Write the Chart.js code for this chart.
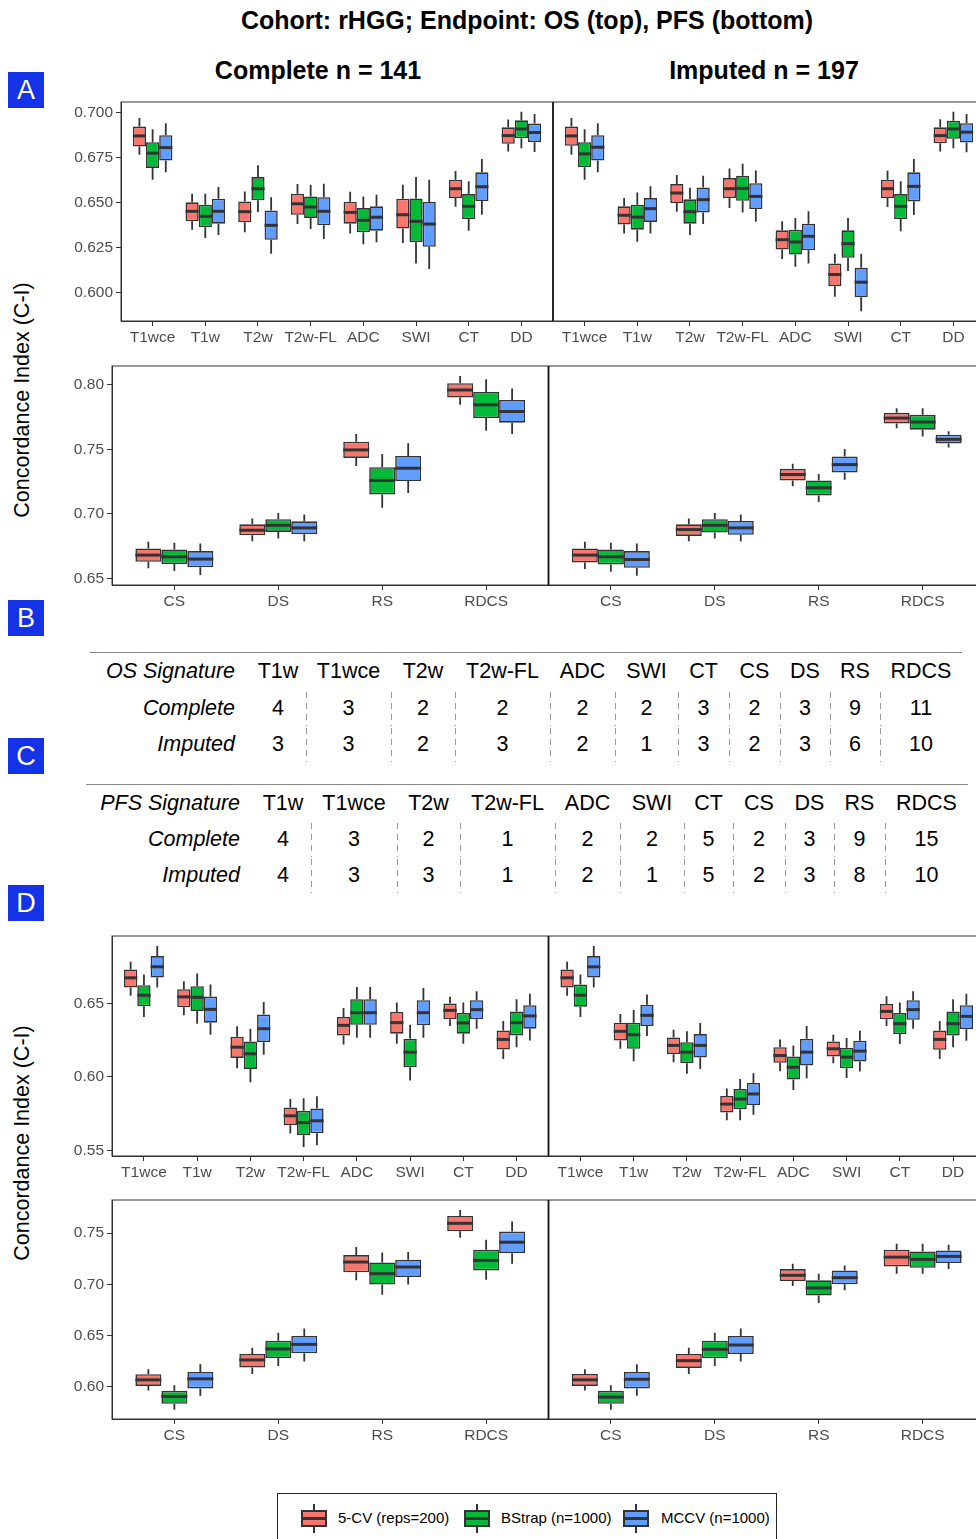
<!DOCTYPE html>
<html>
<head>
<meta charset="utf-8">
<title>rHGG concordance</title>
<script src="https://cdn.jsdelivr.net/npm/chart.js@4.4.1/dist/chart.umd.min.js"></script>
<style>
  html, body { margin: 0; padding: 0; width: 976px; height: 1539px; overflow: hidden; background: #fff; }
  body { position: relative; font-family: "Liberation Sans", Arial, Helvetica, sans-serif; color: #000; }
  .abs { position: absolute; }
  .title { font-weight: bold; font-size: 25px; line-height: 30px; text-align: center; white-space: nowrap; }
  .tag { position: absolute; left: 8px; width: 36px; height: 36px; background: #1432e6; color: #fff; font-size: 27px; line-height: 36px; text-align: center; }
  .ytitle { position: absolute; width: 320px; height: 30px; line-height: 30px; font-size: 21.5px; text-align: center; transform: rotate(-90deg); white-space: nowrap; }
  canvas { position: absolute; left: 0; }
  .tbl { position: absolute; border-top: 1px solid #8a8a8a; font-size: 21.5px; }
  .tr { display: flex; }
  .td { text-align: center; white-space: nowrap; box-sizing: border-box; }
  .lab { text-align: right; font-style: italic; padding-right: 15px; }
  .dash { background: linear-gradient(#9a9a9a 55%, transparent 0) 0 2px / 1px 11px repeat-y; }
  .legend { position: absolute; left: 277px; top: 1493px; width: 498px; height: 60px; border: 1.5px solid #222; }
  .lg-txt { position: absolute; font-size: 15px; line-height: 20px; top: 1508px; white-space: nowrap; }
  .lg-box { position: absolute; top: 1510px; width: 22px; height: 13px; border: 2px solid #333; }
  .lg-med { position: absolute; left: 0; right: 0; top: 5px; height: 3px; background: #333; }
  .lg-wh { position: absolute; top: 1504px; width: 2px; height: 29px; background: #333; }
</style>
</head>
<body>

<div class="abs title" style="left:227px; top:5px; width:600px;">Cohort: rHGG; Endpoint: OS (top), PFS (bottom)</div>
<div class="abs title" style="left:168px; top:55px; width:300px;">Complete n = 141</div>
<div class="abs title" style="left:614px; top:55px; width:300px;">Imputed n = 197</div>

<div class="tag" style="top:72px;">A</div>
<div class="tag" style="top:600px;">B</div>
<div class="tag" style="top:738px;">C</div>
<div class="tag" style="top:885px;">D</div>

<div class="ytitle" style="left:-138px; top:385px;">Concordance Index (C-I)</div>
<div class="ytitle" style="left:-138px; top:1128px;">Concordance Index (C-I)</div>

<canvas id="osSeqChart" width="990" height="264" style="top:87px;"></canvas>
<canvas id="osSigChart" width="990" height="264" style="top:351px;"></canvas>
<canvas id="pfsSeqChart" width="990" height="265" style="top:921px;"></canvas>
<canvas id="pfsSigChart" width="990" height="264" style="top:1185px;"></canvas>

<div id="osTable" class="tbl" style="left:90px; top:652px; width:872px;"></div>
<div id="pfsTable" class="tbl" style="left:86px; top:784px; width:882px;"></div>

<div class="legend"></div>
<div id="legendItems"></div>

<script>
// ---- categories / series ----
var seqLabels = ["T1wce", "T1w", "T2w", "T2w-FL", "ADC", "SWI", "CT", "DD"];
var sigLabels = ["CS", "DS", "RS", "RDCS"];
var seriesNames = ["5-CV (reps=200)", "BStrap (n=1000)", "MCCV (n=1000)"];
var seriesColors = ["#F8766D", "#00BA38", "#619CFF"];

// box stats: [min, q1, median, q3, max]; Complete panel first, then Imputed panel

// OS, single sequences
var osSeq5cv = [
  [0.6767,0.6813,0.6872,0.6924,0.6972],[0.6350,0.6396,0.6452,0.6502,0.6550],[0.6335,0.6391,0.6450,0.6507,0.6563],[0.6381,0.6433,0.6494,0.6550,0.6604],
  [0.6328,0.6383,0.6446,0.6506,0.6561],[0.6276,0.6356,0.6433,0.6522,0.6600],[0.6478,0.6526,0.6578,0.6628,0.6676],[0.6785,0.6828,0.6874,0.6920,0.6963],
  [0.6767,0.6817,0.6872,0.6924,0.6972],[0.6328,0.6378,0.6430,0.6480,0.6526],[0.6450,0.6498,0.6554,0.6604,0.6654],[0.6470,0.6526,0.6578,0.6637,0.6691],
  [0.6187,0.6239,0.6294,0.6346,0.6396],[0.5976,0.6035,0.6100,0.6161,0.6215],[0.6476,0.6526,0.6578,0.6628,0.6678],[0.6785,0.6831,0.6874,0.6920,0.6965]
];
var osSeqBoot = [
  [0.6628,0.6694,0.6776,0.6837,0.6909],[0.6304,0.6363,0.6424,0.6489,0.6550],[0.6448,0.6513,0.6578,0.6643,0.6709],[0.6354,0.6415,0.6476,0.6535,0.6600],
  [0.6269,0.6335,0.6402,0.6470,0.6535],[0.6161,0.6280,0.6396,0.6524,0.6643],[0.6344,0.6409,0.6480,0.6548,0.6619],[0.6804,0.6859,0.6911,0.6959,0.7007],
  [0.6628,0.6698,0.6772,0.6837,0.6909],[0.6283,0.6350,0.6420,0.6489,0.6557],[0.6320,0.6383,0.6450,0.6519,0.6583],[0.6446,0.6511,0.6580,0.6650,0.6717],
  [0.6143,0.6211,0.6281,0.6350,0.6415],[0.6119,0.6193,0.6272,0.6346,0.6415],[0.6341,0.6409,0.6480,0.6548,0.6619],[0.6804,0.6856,0.6911,0.6957,0.7007]
];
var osSeqMccv = [
  [0.6670,0.6735,0.6807,0.6876,0.6943],[0.6320,0.6383,0.6452,0.6522,0.6587],[0.6215,0.6293,0.6374,0.6456,0.6531],[0.6298,0.6374,0.6452,0.6531,0.6606],
  [0.6280,0.6344,0.6419,0.6480,0.6544],[0.6131,0.6254,0.6381,0.6504,0.6628],[0.6433,0.6509,0.6589,0.6669,0.6744],[0.6783,0.6837,0.6891,0.6941,0.6994],
  [0.6670,0.6735,0.6809,0.6876,0.6943],[0.6328,0.6393,0.6467,0.6526,0.6591],[0.6381,0.6446,0.6517,0.6585,0.6650],[0.6394,0.6465,0.6535,0.6609,0.6680],
  [0.6161,0.6235,0.6313,0.6383,0.6452],[0.5896,0.5974,0.6057,0.6137,0.6215],[0.6431,0.6507,0.6591,0.6669,0.6743],[0.6781,0.6835,0.6893,0.6943,0.6994]
];

// OS, signatures
var osSig5cv = [
  [0.6577,0.6628,0.6680,0.6731,0.6783],[0.6788,0.6834,0.6873,0.6919,0.6963],[0.7372,0.7434,0.7496,0.7560,0.7619],[0.7846,0.7902,0.7961,0.8013,0.8069],
  [0.6572,0.6623,0.6680,0.6731,0.6783],[0.6788,0.6829,0.6878,0.6919,0.6963],[0.7215,0.7259,0.7305,0.7349,0.7388],[0.7665,0.7701,0.7743,0.7784,0.7820]
];
var osSigBoot = [
  [0.6556,0.6610,0.6667,0.6724,0.6775],[0.6809,0.6860,0.6911,0.6958,0.7007],[0.7048,0.7151,0.7259,0.7362,0.7465],[0.7645,0.7743,0.7846,0.7946,0.8044],
  [0.6551,0.6608,0.6667,0.6724,0.6775],[0.6809,0.6855,0.6911,0.6958,0.7007],[0.7092,0.7143,0.7202,0.7259,0.7310],[0.7601,0.7653,0.7712,0.7768,0.7820]
];
var osSigMccv = [
  [0.6525,0.6585,0.6649,0.6711,0.6770],[0.6788,0.6842,0.6891,0.6942,0.6994],[0.7161,0.7254,0.7354,0.7449,0.7547],[0.7619,0.7707,0.7794,0.7884,0.7972],
  [0.6520,0.6582,0.6646,0.6711,0.6770],[0.6785,0.6837,0.6891,0.6945,0.6994],[0.7264,0.7321,0.7382,0.7444,0.7503],[0.7514,0.7545,0.7578,0.7614,0.7640]
];

// PFS, single sequences
var pfsSeq5cv = [
  [0.6553,0.6610,0.6676,0.6733,0.6785],[0.6420,0.6475,0.6546,0.6598,0.6653],[0.6059,0.6130,0.6203,0.6274,0.6345],[0.5614,0.5671,0.5735,0.5792,0.5849],
  [0.6221,0.6283,0.6352,0.6409,0.6470],[0.6226,0.6295,0.6370,0.6443,0.6507],[0.6347,0.6393,0.6454,0.6500,0.6546],[0.6123,0.6187,0.6256,0.6317,0.6381],
  [0.6553,0.6610,0.6676,0.6733,0.6785],[0.6192,0.6249,0.6311,0.6370,0.6429],[0.6100,0.6155,0.6215,0.6269,0.6322],[0.5705,0.5758,0.5815,0.5870,0.5922],
  [0.6039,0.6096,0.6146,0.6203,0.6256],[0.6094,0.6139,0.6192,0.6242,0.6288],[0.6347,0.6393,0.6447,0.6498,0.6550],[0.6123,0.6185,0.6256,0.6317,0.6381]
];
var pfsSeqBoot = [
  [0.6409,0.6482,0.6557,0.6626,0.6699],[0.6363,0.6450,0.6543,0.6619,0.6705],[0.5963,0.6055,0.6158,0.6242,0.6329],[0.5523,0.5603,0.5689,0.5769,0.5854],
  [0.6267,0.6356,0.6438,0.6530,0.6614],[0.5975,0.6066,0.6169,0.6260,0.6356],[0.6226,0.6295,0.6368,0.6436,0.6507],[0.6203,0.6283,0.6370,0.6447,0.6530],
  [0.6409,0.6479,0.6557,0.6630,0.6699],[0.6107,0.6192,0.6288,0.6370,0.6457],[0.6021,0.6094,0.6169,0.6237,0.6311],[0.5705,0.5779,0.5849,0.5918,0.5986],
  [0.5911,0.5982,0.6066,0.6139,0.6215],[0.5993,0.6059,0.6135,0.6199,0.6265],[0.6224,0.6292,0.6363,0.6436,0.6507],[0.6203,0.6283,0.6363,0.6447,0.6530]
];
var pfsSeqMccv = [
  [0.6610,0.6678,0.6751,0.6824,0.6893],[0.6288,0.6370,0.6461,0.6548,0.6630],[0.6151,0.6237,0.6329,0.6425,0.6511],[0.5534,0.5616,0.5701,0.5785,0.5868],
  [0.6267,0.6356,0.6438,0.6530,0.6614],[0.6267,0.6352,0.6438,0.6523,0.6607],[0.6329,0.6393,0.6459,0.6523,0.6584],[0.6249,0.6329,0.6416,0.6489,0.6568],
  [0.6610,0.6678,0.6751,0.6824,0.6893],[0.6279,0.6347,0.6420,0.6493,0.6562],[0.6055,0.6132,0.6215,0.6292,0.6368],[0.5742,0.5808,0.5884,0.5959,0.6025],
  [0.5991,0.6078,0.6169,0.6260,0.6347],[0.6037,0.6105,0.6176,0.6247,0.6315],[0.6329,0.6390,0.6459,0.6523,0.6584],[0.6247,0.6326,0.6413,0.6489,0.6568]
];

// PFS, signatures
var pfsSig5cv = [
  [0.5961,0.6006,0.6065,0.6120,0.6169],[0.6123,0.6185,0.6260,0.6318,0.6380],[0.7039,0.7117,0.7218,0.7286,0.7364],[0.7455,0.7519,0.7597,0.7669,0.7727],
  [0.5961,0.6006,0.6065,0.6123,0.6169],[0.6123,0.6182,0.6253,0.6318,0.6380],[0.6984,0.7032,0.7088,0.7149,0.7201],[0.7104,0.7175,0.7266,0.7338,0.7396]
];
var pfsSigBoot = [
  [0.5773,0.5831,0.5903,0.5958,0.6013],[0.6201,0.6279,0.6367,0.6448,0.6526],[0.6899,0.6997,0.7104,0.7214,0.7312],[0.7045,0.7136,0.7234,0.7338,0.7435],
  [0.5773,0.5831,0.5896,0.5958,0.6013],[0.6201,0.6276,0.6364,0.6448,0.6526],[0.6818,0.6890,0.6964,0.7039,0.7104],[0.7104,0.7162,0.7244,0.7321,0.7396]
];
var pfsSigMccv = [
  [0.5909,0.5981,0.6075,0.6143,0.6218],[0.6244,0.6325,0.6412,0.6494,0.6568],[0.6997,0.7071,0.7169,0.7240,0.7315],[0.7201,0.7305,0.7412,0.7516,0.7614],
  [0.5909,0.5981,0.6071,0.6143,0.6218],[0.6244,0.6318,0.6406,0.6494,0.6568],[0.6942,0.7000,0.7065,0.7136,0.7185],[0.7149,0.7208,0.7273,0.7331,0.7386]
];

// y tick labels
var osSeqTicks = [0.600, 0.625, 0.650, 0.675, 0.700];
var osSigTicks = [0.65, 0.70, 0.75, 0.80];
var pfsSeqTicks = [0.55, 0.60, 0.65];
var pfsSigTicks = [0.60, 0.65, 0.70, 0.75];

// signature size tables
var sigCols = ["T1w", "T1wce", "T2w", "T2w-FL", "ADC", "SWI", "CT", "CS", "DS", "RS", "RDCS"];
var osComplete = [4, 3, 2, 2, 2, 2, 3, 2, 3, 9, 11];
var osImputed = [3, 3, 2, 3, 2, 1, 3, 2, 3, 6, 10];
var pfsComplete = [4, 3, 2, 1, 2, 2, 5, 2, 3, 9, 15];
var pfsImputed = [4, 3, 3, 1, 2, 1, 5, 2, 3, 8, 10];

// ---- box plot drawing: whiskers + median on top of the floating bars ----
var boxPlugin = {
  id: 'boxes',
  afterDatasetsDraw: function (chart) {
    var ctx = chart.ctx, y = chart.scales.y;
    ctx.save();
    ctx.strokeStyle = '#333333';
    chart.data.datasets.forEach(function (ds, k) {
      chart.getDatasetMeta(k).data.forEach(function (bar, i) {
        var s = ds.stats[i];
        var half = bar.width / 2;
        ctx.lineWidth = 1.8;
        ctx.beginPath();
        ctx.moveTo(bar.x, y.getPixelForValue(s[4]));
        ctx.lineTo(bar.x, y.getPixelForValue(s[3]));
        ctx.moveTo(bar.x, y.getPixelForValue(s[1]));
        ctx.lineTo(bar.x, y.getPixelForValue(s[0]));
        ctx.stroke();
        ctx.lineWidth = 3;
        ctx.beginPath();
        ctx.moveTo(bar.x - half, y.getPixelForValue(s[2]));
        ctx.lineTo(bar.x + half, y.getPixelForValue(s[2]));
        ctx.stroke();
      });
    });
    ctx.restore();
  },
  afterDraw: function (chart) {
    var ctx = chart.ctx, a = chart.chartArea;
    var xd = chart.scales.x.getPixelForValue(chart.options.dividerAt);
    ctx.save();
    ctx.strokeStyle = '#333333';
    ctx.lineWidth = 1;
    ctx.strokeRect(a.left, a.top, a.right - a.left, a.bottom - a.top);
    ctx.strokeStyle = '#111111';
    ctx.lineWidth = 1.8;
    ctx.beginPath();
    ctx.moveTo(xd, a.top);
    ctx.lineTo(xd, a.bottom);
    ctx.stroke();
    ctx.restore();
  }
};

var tickFont = { family: 'Liberation Sans, Arial, sans-serif', size: 15.5 };

function drawRow(id, cats, series, yMin, yMax, yTicks, digits, axisWidth) {
  var n = cats.length;
  var pos = [], names = [];
  [0, 1].forEach(function (p) {
    cats.forEach(function (c, i) {
      pos.push(p * (n + 0.2) + i);
      names.push(c);
    });
  });
  var canvas = document.getElementById(id);
  new Chart(canvas, {
    type: 'bar',
    data: {
      datasets: series.map(function (s, k) {
        return {
          label: seriesNames[k],
          data: s.map(function (b, i) { return { x: pos[i], y: [b[1], b[3]] }; }),
          stats: s,
          backgroundColor: seriesColors[k],
          borderColor: '#333333',
          borderWidth: 1.6,
          borderSkipped: false,
          categoryPercentage: 0.75,
          barPercentage: 1.0
        };
      })
    },
    options: {
      responsive: false,
      animation: false,
      dividerAt: n - 0.4,
      layout: { padding: { top: 15, right: canvas.width - 985, left: 0, bottom: 0 } },
      plugins: { legend: { display: false }, tooltip: { enabled: false } },
      scales: {
        x: {
          type: 'linear',
          min: -0.6,
          max: 2 * n - 0.2,
          offset: false,
          afterBuildTicks: function (ax) {
            ax.ticks = pos.map(function (v) { return { value: v }; });
          },
          afterFit: function (ax) { ax.height = 30; },
          ticks: {
            autoSkip: false, maxRotation: 0, minRotation: 0, padding: 2,
            color: '#4D4D4D', font: tickFont,
            callback: function (v, i) { return names[i]; }
          },
          grid: { offset: false, drawOnChartArea: false, drawTicks: true, tickLength: 5, color: '#333333' },
          border: { display: true, color: '#333333', width: 1 }
        },
        y: {
          min: yMin,
          max: yMax,
          afterBuildTicks: function (ax) {
            ax.ticks = yTicks.map(function (v) { return { value: v }; });
          },
          afterFit: function (ax) { ax.width = axisWidth; },
          ticks: {
            padding: 3, color: '#4D4D4D', font: tickFont,
            callback: function (v) { return Number(v).toFixed(digits); }
          },
          grid: { drawOnChartArea: false, drawTicks: true, tickLength: 5, color: '#333333' },
          border: { display: true, color: '#333333', width: 1 }
        }
      }
    },
    plugins: [boxPlugin]
  });
}

drawRow('osSeqChart', seqLabels, [osSeq5cv, osSeqBoot, osSeqMccv], 0.5841, 0.7061, osSeqTicks, 3, 121);
drawRow('osSigChart', sigLabels, [osSig5cv, osSigBoot, osSigMccv], 0.6448, 0.8147, osSigTicks, 2, 112);
drawRow('pfsSeqChart', seqLabels, [pfsSeq5cv, pfsSeqBoot, pfsSeqMccv], 0.5461, 0.6961, pfsSeqTicks, 2, 112);
drawRow('pfsSigChart', sigLabels, [pfsSig5cv, pfsSigBoot, pfsSigMccv], 0.5682, 0.7825, pfsSigTicks, 2, 112);

// ---- signature size tables ----
function buildTable(elId, head, rows, labelWidth, colWidths, headHeight) {
  var el = document.getElementById(elId);
  function row(label, cells, isHead, h) {
    var r = document.createElement('div');
    r.className = 'tr';
    r.style.height = h + 'px';
    r.style.lineHeight = h + 'px';
    var l = document.createElement('div');
    l.className = 'td lab';
    l.style.width = labelWidth + 'px';
    l.textContent = label;
    r.appendChild(l);
    cells.forEach(function (c, i) {
      var d = document.createElement('div');
      d.className = 'td' + (!isHead && i > 0 ? ' dash' : '');
      d.style.width = colWidths[i] + 'px';
      d.textContent = c;
      r.appendChild(d);
    });
    el.appendChild(r);
  }
  row(head, sigCols, true, headHeight);
  rows.forEach(function (rw) { row(rw[0], rw[1], false, 36); });
}

buildTable('osTable', 'OS Signature', [['Complete', osComplete], ['Imputed', osImputed]],
  160, [56, 85, 64, 95, 65, 63, 51, 51, 50, 50, 82], 37);
buildTable('pfsTable', 'PFS Signature', [['Complete', pfsComplete], ['Imputed', pfsImputed]],
  169, [56, 86, 63, 95, 65, 64, 49, 52, 49, 51, 83], 36);

// ---- legend ----
var lgIconX = [301, 464, 623];
var lgTextX = [338, 501, 661];
var lg = document.getElementById('legendItems');
seriesNames.forEach(function (name, k) {
  var wh = document.createElement('div');
  wh.className = 'lg-wh';
  wh.style.left = (lgIconX[k] + 12) + 'px';
  lg.appendChild(wh);
  var bx = document.createElement('div');
  bx.className = 'lg-box';
  bx.style.left = lgIconX[k] + 'px';
  bx.style.background = seriesColors[k];
  var md = document.createElement('div');
  md.className = 'lg-med';
  bx.appendChild(md);
  lg.appendChild(bx);
  var tx = document.createElement('div');
  tx.className = 'lg-txt';
  tx.style.left = lgTextX[k] + 'px';
  tx.textContent = name;
  lg.appendChild(tx);
});
</script>
</body>
</html>
